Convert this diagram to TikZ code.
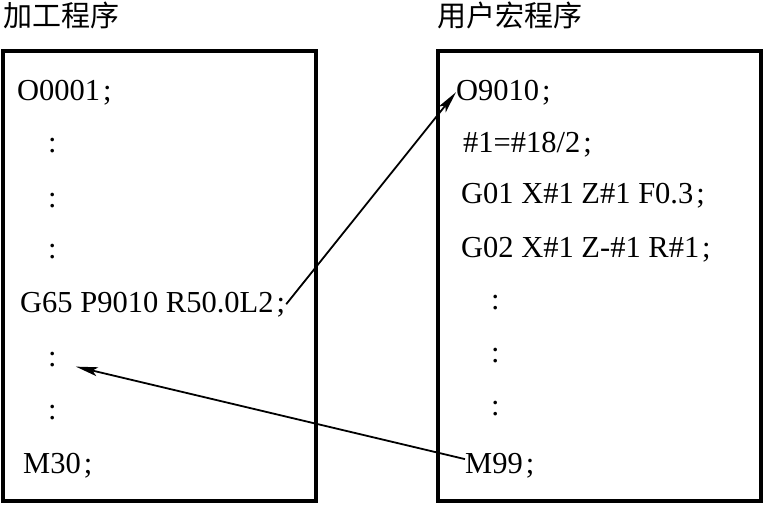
\documentclass[tikz,border=0pt]{standalone}
\usepackage{fontspec}
\setmainfont{Liberation Serif}
\newfontfamily\cjk{Noto Sans CJK SC}
\usetikzlibrary{arrows.meta, positioning}
\newcommand\fsemi{\kern3pt;}

\begin{document}
\begin{tikzpicture}[x=1pt, y=-1pt,
        frame/.style={draw, line width=4pt, minimum height=450.5pt, inner sep=0pt},
        codeline/.style={anchor=base west, inner sep=0pt, font=\fontsize{30.5}{32}\selectfont},
        heading/.style={anchor=west, inner sep=0pt, font=\cjk\fontsize{29}{31}\selectfont},
        link/.style={line width=1.8pt, -{Stealth[length=22pt, width=9pt, inset=5pt]}}
      ]
        \useasboundingbox (0,0) rectangle (764,504);
        \node[heading] (t1) at (3,15) {加工程序};
        \node[heading] (t2) at (437,15) {用户宏程序};
        \node[frame, minimum width=313pt] (main) at (159.5,276) {};
        \node[frame, minimum width=323pt] (macro) at (599.5,276) {};
        % main program
        \node[codeline] (o0001) at (17,100) {O0001\fsemi};
        \node[codeline] (c1) at (48,152) {:};
        \node[codeline] (c2) at (48,207) {:};
        \node[codeline] (c3) at (48,258) {:};
        \node[codeline] (g65) at (20,312) {G65 P9010 R50.0L2\fsemi};
        \node[codeline] (c4) at (48,366) {:};
        \node[codeline] (c5) at (48,419) {:};
        \node[codeline] (m30) at (23,473) {M30\fsemi};
        % macro program
        \node[codeline] (o9010) at (456,100) {O9010\fsemi};
        \node[codeline] (r1) at (463,152) {\#1=\#18/2\fsemi};
        \node[codeline] (r2) at (461,203) {G01 X\#1 Z\#1 F0.3\fsemi};
        \node[codeline] (r3) at (461,257) {G02 X\#1 Z-\#1 R\#1\fsemi};
        \node[codeline] (c6) at (491,309) {:};
        \node[codeline] (c7) at (491,362) {:};
        \node[codeline] (c8) at (491,415) {:};
        \node[codeline] (m99) at (465,473) {M99\fsemi};
        \draw[link] ([xshift=1pt]g65.east) -- (o9010.west);
        \draw[link] (m99.170) -- ([xshift=19pt]c4.south east);
      \end{tikzpicture}
\end{document}
